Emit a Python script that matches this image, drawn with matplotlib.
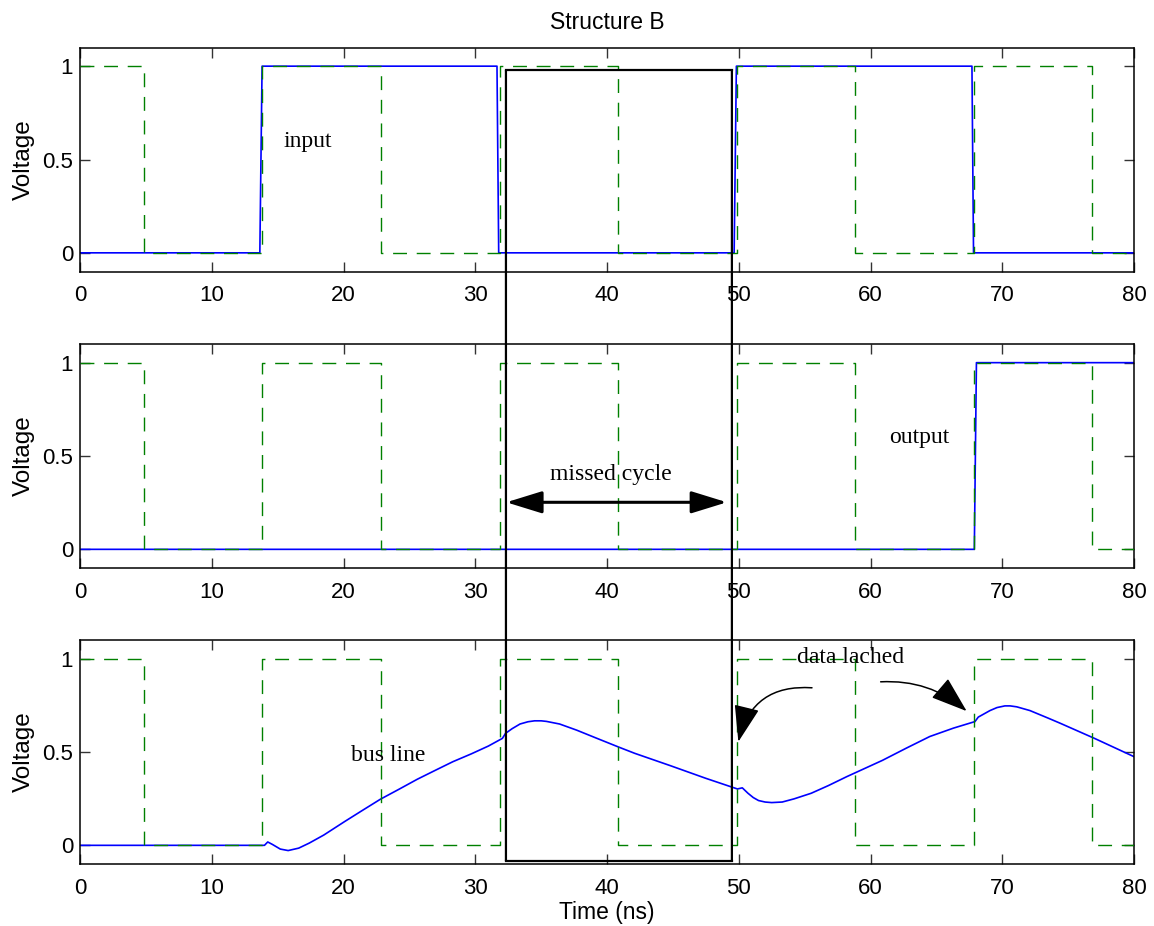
import matplotlib
matplotlib.use("Agg")
import matplotlib.pyplot as plt
from matplotlib.patches import ConnectionPatch

# ---------------- data ----------------
clock_t = [0, 4.85, 4.85, 13.85, 13.85, 22.85, 22.85, 31.85, 31.85, 40.85, 40.85,
           49.85, 49.85, 58.85, 58.85, 67.85, 67.85, 76.85, 76.85, 80]
clock_v = [1, 1, 0, 0, 1, 1, 0, 0, 1, 1, 0, 0, 1, 1, 0, 0, 1, 1, 0, 0]

input_t = [0, 13.65, 13.82, 31.65, 31.78, 49.65, 49.82, 67.7, 67.82, 80]
input_v = [0, 0, 1, 1, 0, 0, 1, 1, 0, 0]

output_t = [0, 67.88, 68.04, 80]
output_v = [0, 0, 1, 1]

bus_t = [0, 14.0, 14.25, 14.6, 15.2, 15.8, 16.6, 17.4, 18.5, 20.1, 21.5, 22.8,
         24.2, 25.6, 27.0, 28.3, 29.7, 31.0, 32.06, 32.3, 32.8, 33.4, 34.0, 34.5,
         35.0, 35.4, 36.4, 37.7, 39.1, 40.9, 42.1, 44.8, 47.5, 49.9, 50.27, 50.7, 51.1,
         51.5, 52.0, 52.5, 53.3, 54.2, 55.5, 56.8, 58.2, 60.9, 62.7, 64.5, 66.3, 67.93,
         68.18, 69.07, 69.6, 70.2, 70.6, 71.1, 72.1, 73.5, 74.4, 77.0, 80.0]
bus_v = [0, 0, 0.018, 0.005, -0.02, -0.028, -0.015, 0.012, 0.055, 0.128, 0.19, 0.247,
         0.30, 0.354, 0.403, 0.448, 0.49, 0.532, 0.573, 0.60, 0.625, 0.65, 0.662, 0.667,
         0.667, 0.664, 0.65, 0.617, 0.577, 0.526, 0.493, 0.427, 0.359, 0.302, 0.308, 0.279,
         0.256, 0.240, 0.232, 0.229, 0.232, 0.249, 0.279, 0.32, 0.368, 0.455, 0.52, 0.583,
         0.628, 0.663, 0.687, 0.722, 0.738, 0.747, 0.747, 0.742, 0.722, 0.681, 0.654,
         0.573, 0.475]

xticks = [0, 10, 20, 30, 40, 50, 60, 70, 80]
yticks = [0, 0.5, 1]
ytick_labels = ["0", "0.5", "1"]

# ---------------- figure ----------------
SANS = "Liberation Sans"
SERIF = "Liberation Serif"
plt.rcParams["font.family"] = [SANS, "DejaVu Sans"]

fig = plt.figure(figsize=(11.54, 9.26), dpi=100)
W, H = 1154, 926
left = 80 / W
width = 1054 / W
height = 224 / H
bottoms_px = [271.5, 568, 864]

axes = []
for b in bottoms_px:
    ax = fig.add_axes([left, (H - b) / H, width, height])
    axes.append(ax)

blue = "#0000ff"
green = "#008000"
signals = [(input_t, input_v), (output_t, output_v), (bus_t, bus_v)]

for ax, (st, sv) in zip(axes, signals):
    ax.plot(st, sv, color=blue, lw=1.2, zorder=2)
    ax.plot(clock_t, clock_v, color=green, lw=1.0, dashes=(10, 7), zorder=3)
    ax.set_xlim(0, 80)
    ax.set_ylim(-0.1, 1.1)
    ax.set_xticks(xticks)
    ax.set_yticks(yticks)
    ax.set_yticklabels(ytick_labels)
    ax.tick_params(direction="in", length=7, width=1.0, color="#333333",
                   top=True, right=True, labelsize=16)
    ax.tick_params(axis="x", pad=10)
    ax.tick_params(axis="y", pad=5)
    for sp in ax.spines.values():
        sp.set_linewidth(1.1)
    ax.set_ylabel("Voltage", fontsize=17.5)
    ax.yaxis.set_label_coords(-0.043, 0.5)

ax1, ax2, ax3 = axes
ax1.set_title("Structure B", fontsize=16.5, pad=13)
ax3.set_xlabel("Time (ns)", fontsize=16.5)
ax3.xaxis.set_label_coords(0.5, -0.165)

# text annotations
ax1.text(17.3, 0.567, "input", family=SERIF, fontsize=17, ha="center", va="baseline")
ax2.text(63.7, 0.567, "output", family=SERIF, fontsize=17, ha="center", va="baseline")
ax3.text(23.4, 0.453, "bus line", family=SERIF, fontsize=17, ha="center", va="baseline")
ax2.text(40.3, 0.37, "missed cycle", family=SERIF, fontsize=17, ha="center", va="baseline")
ax3.text(58.5, 0.977, "data lached", family=SERIF, fontsize=17, ha="center",
         va="baseline", zorder=5)

# double arrow (missed cycle)
ax2.annotate("", xy=(32.36, 0.252), xytext=(49.1, 0.252),
             arrowprops=dict(arrowstyle="<|-|>,head_length=1.1,head_width=0.34",
                             mutation_scale=20, lw=2.2, color="k",
                             shrinkA=0, shrinkB=0), zorder=6)

# curved arrows (data latched)
ax3.annotate("", xy=(49.97, 0.555), xytext=(55.56, 0.844),
             arrowprops=dict(arrowstyle="-|>,head_length=1.15,head_width=0.4",
                             mutation_scale=20, lw=1.1, color="k",
                             connectionstyle="arc3,rad=0.42",
                             shrinkA=0, shrinkB=0), zorder=6)
ax3.annotate("", xy=(67.3, 0.719), xytext=(60.77, 0.876),
             arrowprops=dict(arrowstyle="-|>,head_length=1.15,head_width=0.4",
                             mutation_scale=20, lw=1.1, color="k",
                             connectionstyle="arc3,rad=-0.2",
                             shrinkA=0, shrinkB=0), zorder=6)

# rectangle spanning the three panels
rx0, rx1 = 32.33, 49.48
ry_top, ry_bot = 0.977, -0.082
ax1.plot([rx0, rx1], [ry_top, ry_top], color="k", lw=1.6, clip_on=False, zorder=7,
         solid_capstyle="projecting")
ax3.plot([rx0, rx1], [ry_bot, ry_bot], color="k", lw=1.6, clip_on=False, zorder=7,
         solid_capstyle="projecting")
for rx in (rx0, rx1):
    con = ConnectionPatch(xyA=(rx, ry_top), coordsA=ax1.transData,
                          xyB=(rx, ry_bot), coordsB=ax3.transData,
                          color="k", lw=1.6, zorder=7)
    fig.add_artist(con)

fig.savefig("out.png", dpi=100)
